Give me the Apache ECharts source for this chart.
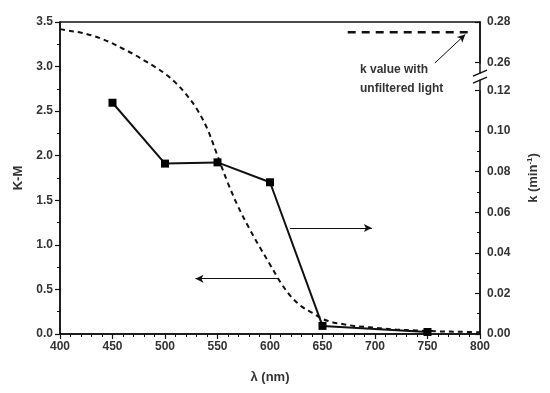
<!DOCTYPE html>
<html><head><meta charset="utf-8">
<script src="https://cdn.jsdelivr.net/npm/echarts@6/dist/echarts.min.js"></script>
<style>html,body{margin:0;padding:0;background:#fff}#c{width:550px;height:393px}</style>
</head><body><div id="c"></div>
<script>
// K-M spectrum (dashed curve, left axis)
const kmWavelength = [400,410,420,430,440,450,460,470,480,490,500,510,520,530,540,550,560,570,580,590,600,610,620,630,640,650,660,670,680,690,700,720,740,760,780,800];
const kmValues     = [3.42,3.40,3.38,3.35,3.31,3.26,3.20,3.14,3.07,3.00,2.92,2.82,2.69,2.53,2.31,2.00,1.69,1.42,1.19,0.98,0.78,0.58,0.42,0.31,0.24,0.17,0.13,0.11,0.09,0.08,0.07,0.05,0.04,0.03,0.025,0.02];
// rate constant k (solid line with squares, right axis)
const kWavelength = [450,500,550,600,650,750];
const kValues     = [0.114,0.084,0.0846,0.0748,0.004,0.001];
// k value with unfiltered light (dashed, right axis)
const unfilteredX = [674,789];
const unfilteredK = 0.275;
// arrows (in x / K-M coordinates)
const arrowRight = [[619,1.19],[697,1.19]];
const arrowLeft  = [[608,0.62],[529,0.62]];
const arrowNote  = [[757,3.04],[786,3.36]];
// ticks
const xTicks = {min:400,max:800,interval:50};
const leftTicks = {min:0,max:3.5,interval:0.5};
const rightTicks = {min:0,max:0.28,interval:0.02};
const rightBreak = {start:0.12,end:0.26};

const chart = echarts.init(document.getElementById('c'));
const FF = '"Liberation Sans", Arial, sans-serif';
const lab = {color:'#333',fontWeight:'bold',fontSize:12,fontFamily:FF};
const axisLine = {lineStyle:{color:'#111',width:1.5}};
const option = {
  animation:false,
  backgroundColor:'#fff',
  grid:{left:60,right:70,top:22,bottom:59,show:true,borderColor:'#111',borderWidth:1.5,backgroundColor:'transparent'},
  xAxis:{type:'value',min:xTicks.min,max:xTicks.max,interval:xTicks.interval,
    axisLine:axisLine,axisTick:{length:5,lineStyle:{color:'#111',width:1.2}},
    minorTick:{show:true,splitNumber:5,length:3,lineStyle:{color:'#111',width:1}},
    splitLine:{show:false},axisLabel:Object.assign({margin:7},lab),
    name:'λ (nm)',nameLocation:'middle',nameGap:37,
    nameTextStyle:{color:'#333',fontWeight:'bold',fontSize:13,fontFamily:FF}},
  yAxis:[
    {type:'value',min:leftTicks.min,max:leftTicks.max,interval:leftTicks.interval,position:'left',
      axisLine:Object.assign({show:true},axisLine),axisTick:{show:true,length:5,lineStyle:{color:'#111',width:1.2}},
      minorTick:{show:true,splitNumber:2,length:3,lineStyle:{color:'#111',width:1}},
      splitLine:{show:false},axisLabel:Object.assign({margin:7,formatter:v=>v.toFixed(1)},lab),
      name:'K-M',nameLocation:'middle',nameGap:34,nameRotate:90,
      nameTextStyle:{color:'#333',fontWeight:'bold',fontSize:13,fontFamily:FF}},
    {type:'value',min:rightTicks.min,max:rightTicks.max,interval:rightTicks.interval,position:'right',
      breaks:[{start:rightBreak.start,end:rightBreak.end,gap:0.0138}],
      breakArea:{show:true,itemStyle:{color:'rgba(255,255,255,0)',borderColor:'rgba(0,0,0,0)'},zigzagAmplitude:0,expandOnClick:false},
      axisLine:Object.assign({show:true},axisLine),axisTick:{show:true,inside:true,length:5,lineStyle:{color:'#111',width:1.2}},
      minorTick:{show:true,splitNumber:2,length:3,lineStyle:{color:'#111',width:1}},
      splitLine:{show:false},axisLabel:Object.assign({margin:7,formatter:v=>v.toFixed(2)},lab),
      name:'{a|k (min}{s|-1}{a|)}',nameLocation:'middle',nameGap:46,nameRotate:90,
      nameTextStyle:{rich:{
        a:{color:'#333',fontWeight:'bold',fontSize:13,fontFamily:FF},
        s:{color:'#333',fontWeight:'bold',fontSize:8,verticalAlign:'top',padding:[0,0,7,0],fontFamily:FF}}}}
  ],
  series:[
    {type:'line',yAxisIndex:0,smooth:0.35,showSymbol:false,silent:true,
      data:kmWavelength.map((x,i)=>[x,kmValues[i]]),
      lineStyle:{color:'#111',width:2,type:[5,4]},
      markLine:{silent:true,animation:false,symbol:['none','arrow'],symbolSize:[6,8],
        lineStyle:{color:'#111',width:1,type:'solid'},label:{show:false},
        data:[
          [{coord:arrowRight[0]},{coord:arrowRight[1]}],
          [{coord:arrowLeft[0]},{coord:arrowLeft[1]}],
          [{coord:arrowNote[0]},{coord:arrowNote[1]}]
        ]}},
    {type:'line',yAxisIndex:1,symbol:'rect',symbolSize:8,showSymbol:true,
      data:kWavelength.map((x,i)=>[x,kValues[i]]),
      itemStyle:{color:'#000'},lineStyle:{color:'#111',width:2}},
    {type:'line',yAxisIndex:1,showSymbol:false,
      data:unfilteredX.map(x=>[x,unfilteredK]),
      lineStyle:{color:'#111',width:2.5,type:[8,6]}}
  ]
};
chart.setOption(option);
// break marks "//" on the right axis, positioned from the axis scale
const yLo = chart.convertToPixel({yAxisIndex:1}, rightBreak.start);
const yHi = chart.convertToPixel({yAxisIndex:1}, rightBreak.end);
const xAx = chart.convertToPixel({xAxisIndex:0}, xTicks.max);
const yc = (yLo + yHi) / 2;
const slash = (dy) => ({type:'line',silent:true,z:100,
  shape:{x1:xAx-7,y1:yc+dy+3,x2:xAx+7,y2:yc+dy-3},style:{stroke:'#111',lineWidth:1.5}});
chart.setOption({graphic:[
  {type:'rect',silent:true,z:99,shape:{x:xAx-2,y:yc-3,width:4,height:6},style:{fill:'#fff'}},
  slash(-3.5), slash(3.5),
  {type:'text',left:360,top:60,style:{text:'k value with\nunfiltered light',fill:'#333',font:'bold 12px "Liberation Sans", Arial, sans-serif',lineHeight:19}}
]});
</script></body></html>
